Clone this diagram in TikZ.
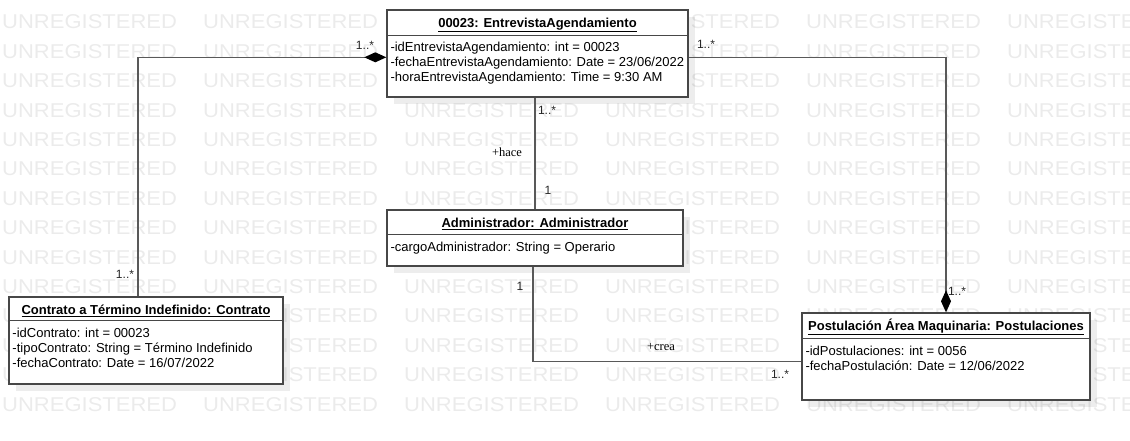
\documentclass[tikz,border=0pt]{standalone}
\usepackage{graphicx}
\usepackage{fontspec}
\setmainfont{Liberation Sans}
\newfontfamily\rolefont{Liberation Serif}
\usetikzlibrary{arrows.meta,shadows}

\begin{document}
\begin{tikzpicture}[x=1pt,y=-1pt,
  cls/.style={draw=black!72,line width=1.4pt,fill=white,inner sep=0pt,
    drop shadow={shadow xshift=7pt,shadow yshift=-7pt,fill=black,opacity=.07}},
  sep/.style={draw=black!72,line width=1.4pt},
  hdr/.style={font=\bfseries\fontsize{13}{15}\selectfont,inner sep=0pt,anchor=base},
  att/.style={font=\fontsize{13}{15}\selectfont,align=left,anchor=north west,inner sep=0pt},
  mult/.style={font=\fontsize{12}{14}\selectfont,text=black!85,inner sep=0pt},
  role/.style={font=\rolefont\fontsize{12.5}{14}\selectfont,inner sep=0pt},
  assoc/.style={draw=black!65,line width=1.4pt},
  comp/.style={assoc,-{Diamond[length=22pt,width=10pt,fill=black,color=black]}},
  wm/.style={font=\fontsize{20}{20}\selectfont,text=black!8,anchor=west,inner sep=0pt}]
\useasboundingbox (0,0) rectangle (1130,441);
\clip (0,0) rectangle (1130,441);

\foreach \row in {0,...,13}
  \foreach \col in {0,...,5}
    \node[wm] (wm-\row-\col) at (2+201*\col,22+29.4*\row) {\scalebox{1.1}[1]{UNREGISTERED}};

\node[cls,minimum width=301pt,minimum height=87pt] (ent) at (537.5,53.5) {};
\node[hdr] (ent-h) at ([yshift=-18]ent.north) {\underline{00023: EntrevistaAgendamiento}};
\draw[sep] ([yshift=-26]ent.north west) -- ([yshift=-26]ent.north east);
\node[att] (ent-a) at ([xshift=4,yshift=-32.5]ent.north west) {-idEntrevistaAgendamiento: int = 00023\\-fechaEntrevistaAgendamiento: Date = 23/06/2022\\-horaEntrevistaAgendamiento: Time = 9:30 AM};

\node[cls,minimum width=296pt,minimum height=56pt] (adm) at (535,238) {};
\node[hdr] (adm-h) at ([yshift=-18]adm.north) {\underline{Administrador: Administrador}};
\draw[sep] ([yshift=-25]adm.north west) -- ([yshift=-25]adm.north east);
\node[att] (adm-a) at ([xshift=4,yshift=-32.5]adm.north west) {-cargoAdministrador: String = Operario};

\node[cls,minimum width=274pt,minimum height=87pt] (con) at (146,340.5) {};
\node[hdr] (con-h) at ([yshift=-18]con.north) {\underline{Contrato a Término Indefinido: Contrato}};
\draw[sep] ([yshift=-24]con.north west) -- ([yshift=-24]con.north east);
\node[att] (con-a) at ([xshift=4,yshift=-31.5]con.north west) {-idContrato: int = 00023\\-tipoContrato: String = Término Indefinido\\-fechaContrato: Date = 16/07/2022};

\node[cls,minimum width=288pt,minimum height=87pt] (pos) at (946,356.5) {};
\node[hdr] (pos-h) at ([yshift=-18]pos.north) {\underline{Postulación Área Maquinaria: Postulaciones}};
\draw[sep] ([yshift=-26]pos.north west) -- ([yshift=-26]pos.north east);
\node[att] (pos-a) at ([xshift=4,yshift=-33.5]pos.north west) {-idPostulaciones: int = 0056\\-fechaPostulación: Date = 12/06/2022};

\draw[comp] ([xshift=-8]con.north) |- ([yshift=-48]ent.north west);
\draw[comp] ([yshift=-48]ent.north east) -| (pos.north);
\draw[assoc] (adm.north) -- (adm.north |- ent.south);
\draw[assoc] ([xshift=-2]adm.south) |- ([yshift=-49]pos.north west);

\node[mult] (m1) at (365,45) {1..*};
\node[mult] (m2) at (125,274) {1..*};
\node[mult] (m3) at (706,44) {1..*};
\node[mult] (m4) at (957,291) {1..*};
\node[mult] (m5) at (547,110) {1..*};
\node[mult] (m6) at (548,190) {1};
\node[mult] (m7) at (520,286) {1};
\node[mult] (m8) at (780,374) {1..*};
\node[role] (r1) at (507,152) {+hace};
\node[role] (r2) at (661,347) {+crea};
\end{tikzpicture}
\end{document}
